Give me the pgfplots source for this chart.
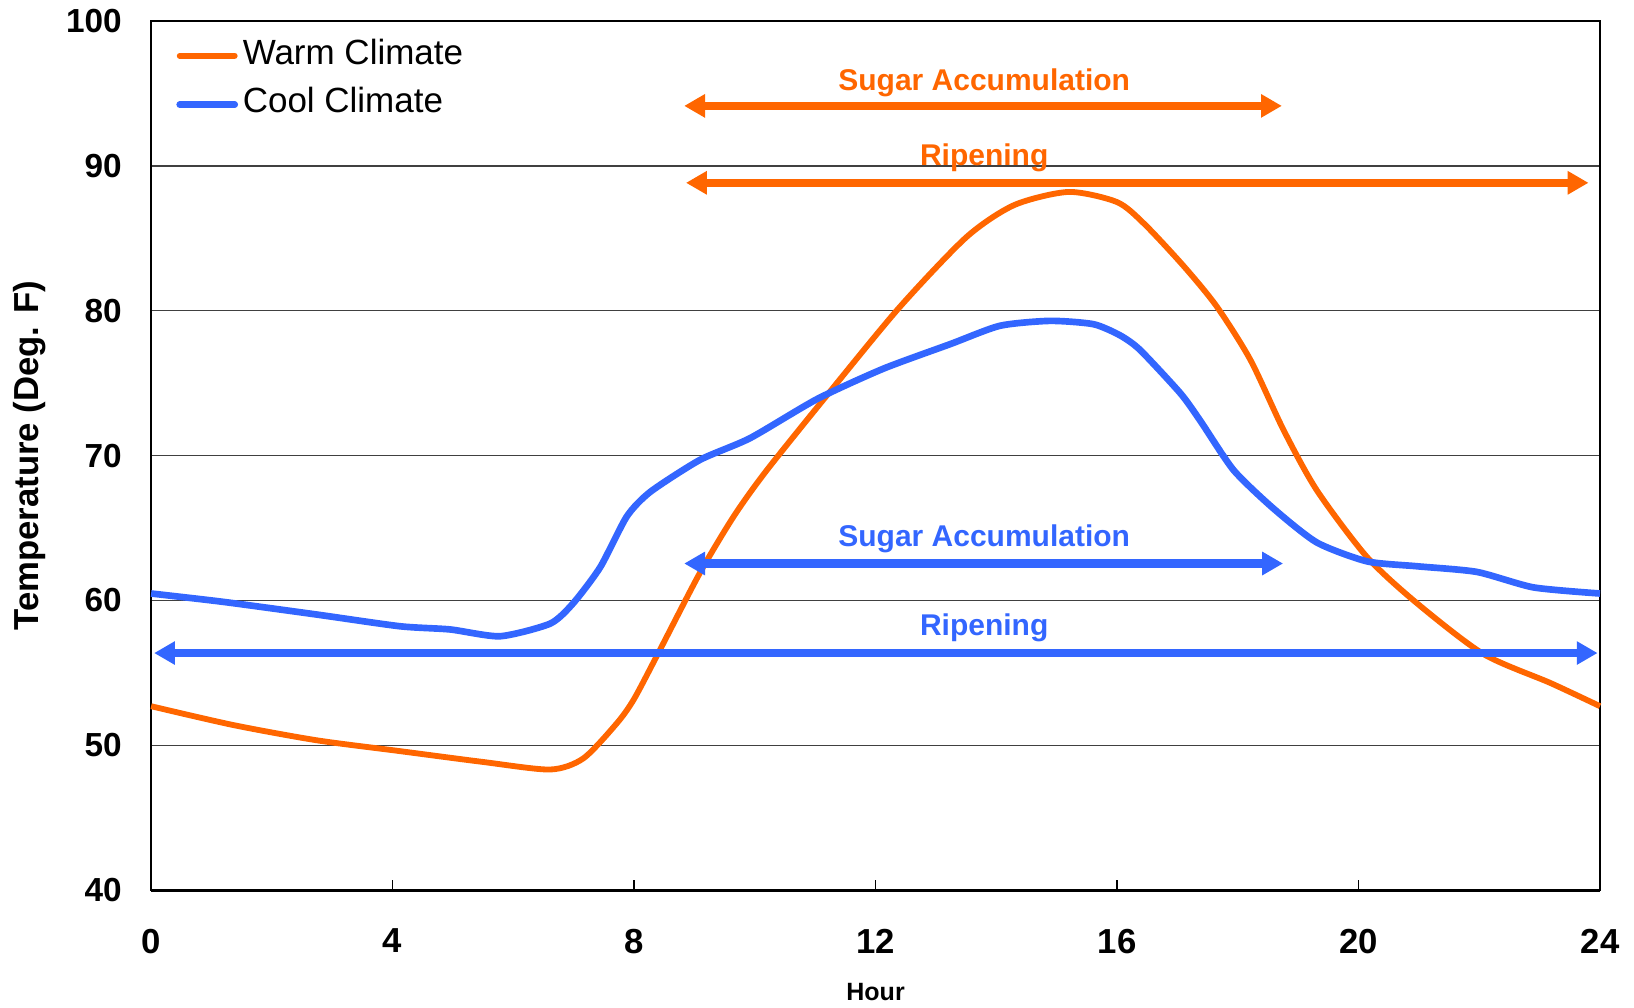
\documentclass[border=0pt]{standalone}
\usepackage{fontspec}
\setmainfont{Liberation Sans}
\usepackage{pgfplots}
\pgfplotsset{compat=1.18}
\usetikzlibrary{arrows.meta}
\definecolor{warm}{HTML}{FF6600}
\definecolor{cool}{HTML}{3366FF}
\begin{document}
\begin{tikzpicture}
\useasboundingbox (-54.4pt,-42.1pt) rectangle (533.84pt,320.46pt);
\begin{axis}[
  at={(0pt,0pt)}, anchor=south west,
  scale only axis, width=521.6pt, height=312.9pt,
  xmin=0, xmax=24, ymin=40, ymax=100,
  xtick={0,4,...,24}, ytick={40,50,...,100},
  xtick pos=lower, ytick style={draw=none},
  major tick length=3.6pt,
  xtick style={black, line width=0.5pt},
  ymajorgrids, grid style={black!75, line width=0.5pt},
  axis line style={black, line width=0.8pt},
  /pgf/number format/assume math mode=true,
  yticklabel style={font=\bfseries\fontsize{12}{14}\selectfont, inner sep=0pt, anchor=east, xshift=-10.4pt},
  xticklabel style={font=\bfseries\fontsize{12.5}{14}\selectfont, inner sep=0pt, anchor=north, yshift=-13.8pt},
  xlabel={Hour},
  xlabel style={font=\bfseries\fontsize{9}{11}\selectfont, at={(rel axis cs:0.5,-0.1173)}, anchor=center},
  ylabel={Temperature (Deg. F)},
  ylabel style={font=\bfseries\fontsize{12.5}{14}\selectfont, at={(rel axis cs:-0.0842,0.5)}, anchor=center},
  legend style={draw=none, fill=none, at={(rel axis cs:0,1)}, anchor=north west,
    xshift=8.9pt, yshift=-6.3pt, inner sep=0pt, row sep=5.6pt,
    font=\fontsize{12.6}{14}\selectfont,
    nodes={inner sep=0pt, text height=9pt, text depth=3pt}},
  legend cell align=left,
  /tikz/every odd column/.append style={column sep=1.7pt},
  legend image code/.code={\draw[#1, line cap=round] (0pt,0pt) -- (19.8pt,0pt);},
  clip=false,
]
\addplot[warm, line width=2.1pt, smooth, tension=0.45, no markers] coordinates {
(0,52.7) (1.36,51.4) (2.74,50.35) (4.12,49.6) (5.5,48.85) (6.61,48.33) (7.16,49.1) (7.71,51.5) (8.0,53.2) (8.43,56.6) (9.09,61.9) (9.65,65.8) (10.2,69.0) (11.3,74.7) (12.41,80.3) (13.51,85.1) (14.3,87.3) (15.2,88.2) (16.0,87.5) (16.45,86.0) (17.1,83.1) (17.65,80.3) (18.21,76.6) (18.76,71.75) (19.31,67.6) (20.14,63.0) (20.97,59.8) (22.07,56.3) (23.18,54.3) (24,52.7)
};
\addlegendentry{Warm Climate}
\addplot[cool, line width=2.4pt, smooth, tension=0.4, no markers] coordinates {
(0,60.48) (1.2,59.9) (2.74,59.03) (4.12,58.22) (4.95,58.0) (5.78,57.53) (6.61,58.4) (6.99,59.8) (7.44,62.3) (7.88,65.8) (8.27,67.5) (9.09,69.7) (9.92,71.2) (11.03,73.9) (12.13,76.0) (13.24,77.7) (14.06,78.96) (14.89,79.3) (15.61,79.07) (16.05,78.3) (16.38,77.3) (17.05,74.3) (17.38,72.4) (17.93,69.0) (18.59,66.35) (19.31,64.0) (20.14,62.7) (20.97,62.36) (21.96,61.97) (22.9,60.9) (24,60.48)
};
\addlegendentry{Cool Climate}
% arrows
\addplot[warm, line width=2.9pt, no markers, forget plot, {Triangle[length=7.5pt,width=8pt]}-{Triangle[length=7.5pt,width=8pt]}] coordinates {(8.83,94.14) (18.73,94.14)};
\addplot[warm, line width=2.9pt, no markers, forget plot, {Triangle[length=7.5pt,width=8pt]}-{Triangle[length=7.5pt,width=8pt]}] coordinates {(8.86,88.83) (23.81,88.83)};
\addplot[cool, line width=2.9pt, no markers, forget plot, {Triangle[length=7.5pt,width=8pt]}-{Triangle[length=7.5pt,width=8pt]}] coordinates {(8.83,62.55) (18.75,62.55)};
\addplot[cool, line width=2.9pt, no markers, forget plot, {Triangle[length=7.5pt,width=8pt]}-{Triangle[length=7.5pt,width=8pt]}] coordinates {(0.05,56.37) (23.96,56.37)};
\node[warm, font=\bfseries\fontsize{10.8}{12}\selectfont, anchor=base, inner sep=0pt] at (axis cs:13.8,95.2) {Sugar Accumulation};
\node[warm, font=\bfseries\fontsize{10.8}{12}\selectfont, anchor=base, inner sep=0pt] at (axis cs:13.8,90.05) {Ripening};
\node[cool, font=\bfseries\fontsize{10.8}{12}\selectfont, anchor=base, inner sep=0pt] at (axis cs:13.8,63.75) {Sugar Accumulation};
\node[cool, font=\bfseries\fontsize{10.8}{12}\selectfont, anchor=base, inner sep=0pt] at (axis cs:13.8,57.55) {Ripening};
\draw[black, line width=1.2pt] (rel axis cs:0,0) -- (rel axis cs:1,0);
\end{axis}
\end{tikzpicture}
\end{document}
